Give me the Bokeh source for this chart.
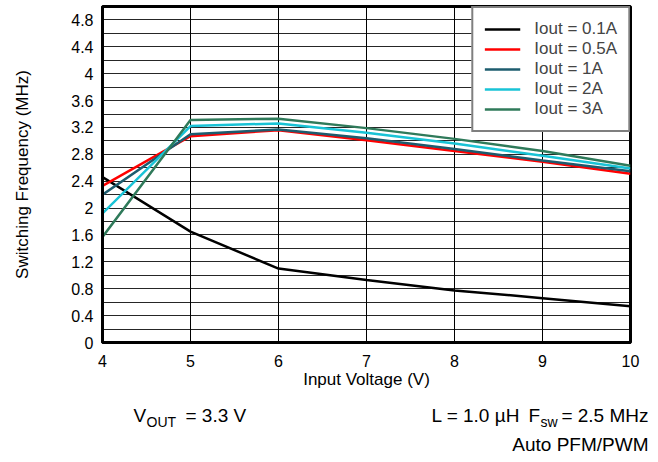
from bokeh.plotting import figure
from bokeh.models import (Range1d, FixedTicker, NumeralTickFormatter,
                          Legend, LegendItem)
from bokeh.layouts import column
from bokeh.core.properties import value
from bokeh.embed import file_html
from bokeh.resources import INLINE

# ---- data ----
vin = [4, 5, 6, 7, 8, 9, 10]
f_01A = [2.46, 1.65, 1.10, 0.93, 0.775, 0.66, 0.54]
f_05A = [2.33, 3.07, 3.16, 3.01, 2.85, 2.69, 2.51]
f_1A = [2.20, 3.10, 3.17, 3.04, 2.88, 2.71, 2.55]
f_2A = [1.92, 3.22, 3.26, 3.12, 2.96, 2.78, 2.59]
f_3A = [1.57, 3.31, 3.33, 3.19, 3.03, 2.85, 2.63]
series_labels = ["Iout = 0.1A", "Iout = 0.5A", "Iout = 1A", "Iout = 2A", "Iout = 3A"]
series_colors = ["#000000", "#ff0000", "#1d5c6e", "#19c3d6", "#2f7a5a"]
x_ticks = [4, 5, 6, 7, 8, 9, 10]
y_ticks = [0, 0.4, 0.8, 1.2, 1.6, 2.0, 2.4, 2.8, 3.2, 3.6, 4.0, 4.4, 4.8]
y_grid = [round(0.2 * i, 1) for i in range(26)]

FONT = "Liberation Sans"
W = 650

p = figure(width=W, height=395, output_backend="svg", toolbar_location=None,
           x_range=Range1d(4, 10), y_range=Range1d(0, 5),
           min_border_left=102, min_border_right=20, min_border_top=6,
           min_border_bottom=53)
p.frame_align = False
p.outline_line_color = "black"
p.outline_line_width = 3

p.xaxis.ticker = FixedTicker(ticks=x_ticks)
p.yaxis.ticker = FixedTicker(ticks=y_ticks)
p.yaxis.formatter = NumeralTickFormatter(format="0.[0]")
for ax in (p.xaxis, p.yaxis):
    ax.major_tick_out = 0
    ax.major_tick_in = 0
    ax.minor_tick_out = 0
    ax.minor_tick_in = 0
    ax.axis_line_color = "black"
    ax.axis_line_width = 3
    ax.major_label_text_font = FONT
    ax.major_label_text_font_size = "16px"
    ax.major_label_text_color = "black"
    ax.axis_label_text_font = FONT
    ax.axis_label_text_font_size = "17px"
    ax.axis_label_text_font_style = "normal"
    ax.axis_label_text_color = "black"
p.xaxis.axis_label = "Input Voltage (V)"
p.yaxis.axis_label = "Switching Frequency (MHz)"
p.xaxis.major_label_standoff = 12
p.xaxis.axis_label_standoff = 0
p.yaxis.major_label_standoff = 9
p.yaxis.axis_label_standoff = 36

p.xgrid.ticker = FixedTicker(ticks=x_ticks)
p.xgrid.grid_line_color = "black"
p.xgrid.grid_line_width = 1
p.ygrid.ticker = FixedTicker(ticks=y_grid)
p.ygrid.grid_line_color = "black"
p.ygrid.grid_line_alpha = 0.85
p.ygrid.grid_line_width = 1

items = []
for ys, lab, col in zip([f_01A, f_05A, f_1A, f_2A, f_3A], series_labels, series_colors):
    r = p.line(vin, ys, line_color=col, line_width=2.5)
    items.append(LegendItem(label=lab, renderers=[r]))

legend = Legend(items=items, location="top_right", margin=0, padding=11,
                spacing=0, label_height=16, glyph_width=36, glyph_height=16,
                label_standoff=14,
                label_text_font=FONT, label_text_font_size="17px",
                border_line_color="black", border_line_width=2,
                background_fill_color="white", background_fill_alpha=1)
p.add_layout(legend)

# ---- condition notes below the chart ----
H2 = 67
q = figure(width=W, height=H2, output_backend="svg", toolbar_location=None,
           x_range=Range1d(0, W), y_range=Range1d(H2, 0),
           x_axis_type=None, y_axis_type=None,
           min_border_left=0, min_border_right=0, min_border_top=0,
           min_border_bottom=0)
q.frame_align = False
q.outline_line_color = None
q.xgrid.visible = False
q.ygrid.visible = False

note_text = ["V", "OUT", "= 3.3 V", "L = 1.0 µH", "F", "sw", "= 2.5 MHz", "Auto PFM/PWM"]
note_x = [133, 146, 185, 431, 528, 540, 648, 648]
note_y = [20, 26, 20, 20, 20, 26, 20, 49]
note_size = ["19px", "14px", "19px", "19px", "19px", "14px", "19px", "19px"]
note_align = ["left", "left", "left", "left", "left", "left", "right", "right"]
for t, xx, yy, sz, al in zip(note_text, note_x, note_y, note_size, note_align):
    q.text(x=[xx], y=[yy], text=[t], text_font=value(FONT), text_font_size=sz,
           text_align=al, text_baseline="middle", text_color="black")

open("out.html", "w").write(file_html(column(p, q, spacing=0), INLINE))
